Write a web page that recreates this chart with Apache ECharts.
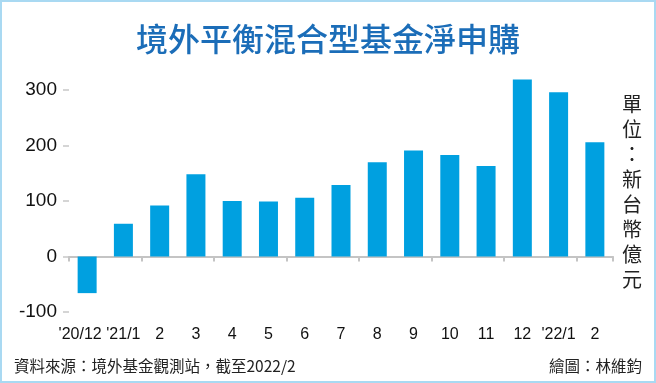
<!DOCTYPE html>
<html><head><meta charset="utf-8">
<script src="https://cdn.jsdelivr.net/npm/echarts@6/dist/echarts.min.js"></script>
<style>html,body{margin:0;padding:0;background:#fff}#c{width:656px;height:383px}</style>
</head><body><div id="c"></div>
<script>
const categories = ["'20/12","'21/1","2","3","4","5","6","7","8","9","10","11","12","'22/1","2"];
const values = [-66, 59, 92, 148, 100, 99, 106, 129, 170, 191, 183, 163, 319, 296, 206];
const yTicks = [-100, 0, 100, 200, 300];
const titleText = '境外平衡混合型基金淨申購';
const unitText = '單位：新台幣億元';
const sourceText = '資料來源：境外基金觀測站，截至2022/2';
const creditText = '繪圖：林維鈞';

const labelData = categories.map((c, i) => i === 0 ? {value: c, textStyle: {padding: [0, 14, 0, 0]}} : c);

const chart = echarts.init(document.getElementById('c'), null, {renderer: 'canvas'});
const cjk = '"Noto Sans CJK TC", "Noto Sans CJK SC", sans-serif';
chart.setOption({
  animation: false,
  backgroundColor: '#fff',
  title: {
    text: titleText, left: 'center', top: 18,
    textStyle: {color: '#1b6db8', fontSize: 32, fontWeight: 500, fontFamily: cjk}
  },
  grid: {left: 69, right: 43, top: 90, bottom: 71, containLabel: false},
  xAxis: [{
    type: 'category', data: categories,
    axisLine: {onZero: true, lineStyle: {color: '#c4c4c4', width: 2}},
    axisTick: {show: true, length: 5, alignWithLabel: false, lineStyle: {color: '#c4c4c4', width: 2}},
    axisLabel: {show: false}
  }, {
    type: 'category', data: labelData, position: 'bottom',
    axisLine: {show: false, onZero: false}, axisTick: {show: false},
    axisLabel: {interval: 0, margin: 15, color: '#111', fontSize: 16, fontFamily: '"Liberation Sans", Arial, sans-serif'}
  }],
  yAxis: {
    type: 'value', min: yTicks[0], max: yTicks[yTicks.length - 1], interval: 100,
    splitLine: {show: false},
    axisLine: {show: false},
    axisTick: {show: true, length: 6, lineStyle: {color: '#c8c8c8', width: 1.5}},
    axisLabel: {margin: 12, color: '#111', fontSize: 19, fontFamily: '"Liberation Sans", Arial, sans-serif'}
  },
  series: [{
    type: 'bar', data: values, barWidth: 19, clip: false,
    itemStyle: {color: '#00a0e0'}
  }],
  graphic: [
    {type: 'rect', shape: {x: 1, y: 1, width: 654, height: 381}, style: {fill: 'none', stroke: '#a9d9f2', lineWidth: 2}, silent: true},
    {type: 'text', left: 622, top: 92, style: {text: unitText.split('').join('\n'), fontSize: 20, lineHeight: 25, fill: '#222', fontFamily: cjk, align: 'left'}},
    {type: 'text', left: 14, top: 358, style: {text: sourceText, fontSize: 15.5, fill: '#222', fontFamily: cjk}},
    {type: 'text', right: 14, top: 358, style: {text: creditText, fontSize: 15.5, fill: '#222', fontFamily: cjk}}
  ]
});
</script></body></html>
